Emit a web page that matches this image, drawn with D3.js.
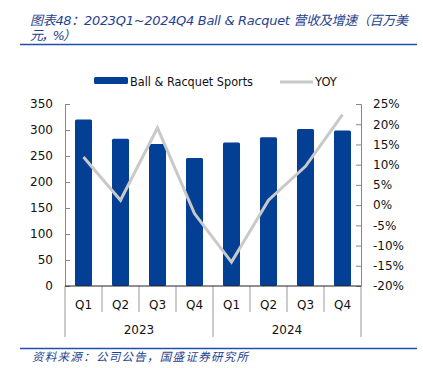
<!DOCTYPE html>
<html>
<head>
<meta charset="utf-8">
<script src="https://cdn.jsdelivr.net/npm/d3@7"></script>
<style>
  body { margin: 0; background: #fff; }
  svg { display: block; }
</style>
</head>
<body>
<div id="chart"></div>
<script>
// data
const quarters = ["Q1", "Q2", "Q3", "Q4", "Q1", "Q2", "Q3", "Q4"]
const years = ["2023", "2024"]
const revenue = [320, 283, 273, 246, 276, 286, 302, 299]
const yoy = [11.9, 1.2, 19.1, -2.1, -14.1, 1.2, 9.6, 22.4]
const leftTicks = [0, 50, 100, 150, 200, 250, 300, 350]
const rightTicks = [-20, -15, -10, -5, 0, 5, 10, 15, 20, 25]

const W = 423, H = 368
const m = { left: 65, right: 361, top: 104, bottom: 286 }
const blue = "#023f95"
const textBlue = "#1f4290"
const font = "'DejaVu Sans', sans-serif"

const svg = d3.select("#chart").append("svg")
    .attr("width", W)
    .attr("height", H)

// Title
const title = svg.append("g")
    .attr("fill", textBlue)
    .attr("font-style", "italic")
    .attr("font-size", 13)
    .attr("font-family", "'DejaVu Sans', 'Noto Sans CJK SC', sans-serif")
title.append("text")
    .attr("x", 30).attr("y", 25)
    .attr("textLength", 378)
    .attr("lengthAdjust", "spacing")
    .text("图表48：2023Q1~2024Q4 Ball & Racquet 营收及增速（百万美")
title.append("text")
    .attr("x", 30).attr("y", 40)
    .attr("textLength", 46)
    .attr("lengthAdjust", "spacing")
    .text("元，%）")
svg.append("line")
    .attr("x1", 20).attr("x2", 417)
    .attr("y1", 44.5).attr("y2", 44.5)
    .attr("stroke", "#2150a8").attr("stroke-width", 1.5)

// Scales
const x = d3.scaleBand()
    .domain(d3.range(quarters.length))
    .range([m.left, m.right])
    .paddingInner(0.54)
    .paddingOuter(0.27)
const y = d3.scaleLinear().domain([0, 350]).range([m.bottom, m.top])
const y2 = d3.scaleLinear().domain([-20, 25]).range([m.bottom, m.top])

// Bars
svg.append("g")
    .selectAll("rect")
    .data(revenue)
    .join("rect")
    .attr("x", (d, i) => x(i))
    .attr("y", d => y(d))
    .attr("width", x.bandwidth())
    .attr("height", d => y(0) - y(d))
    .attr("rx", 1.5)
    .attr("fill", blue)

// Line
const line = d3.line()
    .x((d, i) => x(i) + x.bandwidth() / 2)
    .y(d => y2(d))
svg.append("path")
    .datum(yoy)
    .attr("d", line)
    .attr("fill", "none")
    .attr("stroke", "#c9c9c9")
    .attr("stroke-width", 3)

// Left axis
const leftAxis = svg.append("g")
    .attr("transform", `translate(${m.left},0)`)
    .call(d3.axisLeft(y).tickValues(leftTicks).tickSize(-5).tickPadding(12))
leftAxis.select(".domain").attr("stroke", "#888")
leftAxis.selectAll(".tick line").attr("stroke", "#888")
leftAxis.selectAll("text").attr("font-size", 12).attr("font-family", font).attr("fill", "#111")

// Right axis
const rightAxis = svg.append("g")
    .attr("transform", `translate(${m.right},0)`)
    .call(d3.axisRight(y2).tickValues(rightTicks).tickSize(-5).tickPadding(12)
        .tickFormat(d => d + "%"))
rightAxis.select(".domain").attr("stroke", "#888")
rightAxis.selectAll(".tick line").attr("stroke", "#888")
rightAxis.selectAll("text").attr("font-size", 12).attr("font-family", font).attr("fill", "#111")

// Bottom axis with grouped categories
const xAxis = svg.append("g")
svg.append("line")
    .attr("x1", m.left).attr("x2", m.right)
    .attr("y1", m.bottom).attr("y2", m.bottom)
    .attr("stroke", "#222").attr("stroke-width", 1.2)
d3.range(quarters.length + 1).forEach(i => {
    const xx = m.left + i * (m.right - m.left) / quarters.length
    const long = i % 4 === 0
    xAxis.append("line")
        .attr("x1", xx).attr("x2", xx)
        .attr("y1", m.bottom).attr("y2", long ? 337 : 312)
        .attr("stroke", "#999")
})
xAxis.selectAll("text.q")
    .data(quarters)
    .join("text")
    .attr("class", "q")
    .attr("x", (d, i) => x(i) + x.bandwidth() / 2)
    .attr("y", 309)
    .attr("text-anchor", "middle")
    .attr("font-size", 12)
    .attr("font-family", font)
    .attr("fill", "#111")
    .text(d => d)
xAxis.selectAll("text.yr")
    .data(years)
    .join("text")
    .attr("class", "yr")
    .attr("x", (d, i) => m.left + (i * 4 + 2) * (m.right - m.left) / quarters.length)
    .attr("y", 334)
    .attr("text-anchor", "middle")
    .attr("font-size", 12)
    .attr("font-family", font)
    .attr("fill", "#111")
    .text(d => d)

// Legend
const legend = svg.append("g")
    .attr("font-size", 11.5)
    .attr("font-family", font)
    .attr("fill", "#111")
legend.append("rect")
    .attr("x", 94).attr("y", 77).attr("width", 34).attr("height", 7).attr("rx", 1.5)
    .attr("fill", blue)
legend.append("text").attr("x", 130).attr("y", 85.5)
    .attr("textLength", 123).attr("lengthAdjust", "spacingAndGlyphs")
    .text("Ball & Racquet Sports")
legend.append("line")
    .attr("x1", 280).attr("x2", 313).attr("y1", 82).attr("y2", 82)
    .attr("stroke", "#c9c9c9").attr("stroke-width", 3)
legend.append("text").attr("x", 315).attr("y", 85.5).text("YOY")

// Footer
svg.append("line")
    .attr("x1", 20).attr("x2", 417)
    .attr("y1", 348.5).attr("y2", 348.5)
    .attr("stroke", "#2150a8").attr("stroke-width", 1.5)
svg.append("text")
    .attr("x", 32).attr("y", 361)
    .attr("font-size", 11.5)
    .attr("font-style", "italic")
    .attr("font-family", "'Noto Sans CJK SC', sans-serif")
    .attr("fill", textBlue)
    .attr("textLength", 216)
    .attr("lengthAdjust", "spacing")
    .text("资料来源：公司公告，国盛证券研究所")
</script>
</body>
</html>
